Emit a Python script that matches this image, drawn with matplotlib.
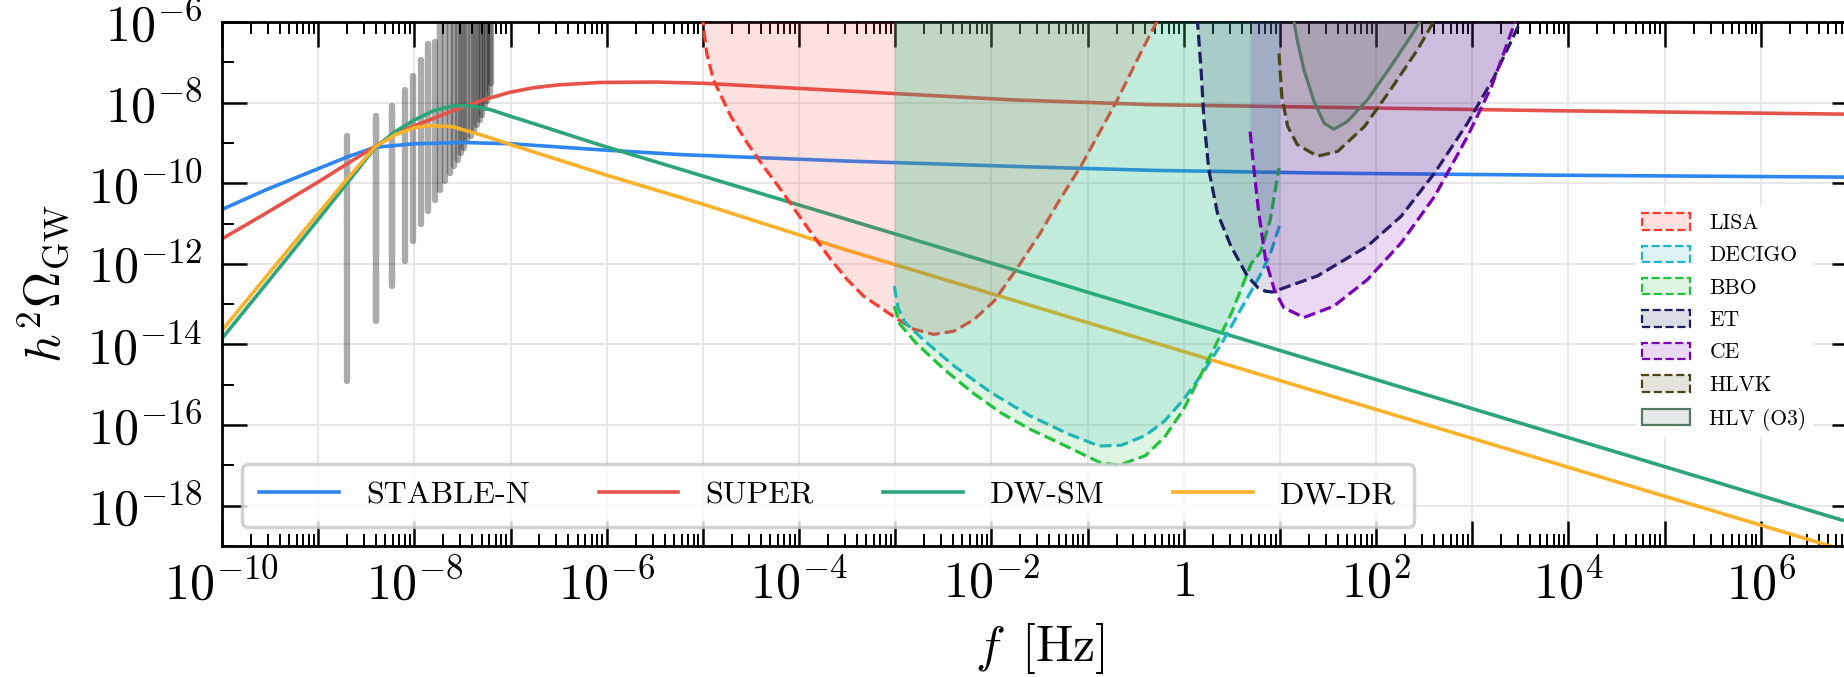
import numpy as np
import matplotlib
matplotlib.use('Agg')
import matplotlib.pyplot as plt
import matplotlib.ticker as mticker
from matplotlib.patches import Patch
from matplotlib.colors import to_rgba

plt.rcParams['font.family'] = 'serif'
plt.rcParams['font.serif'] = ['cmr10', 'DejaVu Serif']
plt.rcParams['mathtext.fontset'] = 'cm'
plt.rcParams['axes.formatter.use_mathtext'] = True

# ---- data (log10 f [Hz], log10 h^2 Omega_GW) ----
# model spectra
stable_lf = [-10, -9.54, -9.0, -8.7, -8.41, -8.0, -7.5, -7.0, -6.07, -5.23, -3.5, -1.8, -0.34, 1.5, 3.82, 7.0]
stable_lo = [-10.65, -10.16, -9.64, -9.35, -9.11, -9.02, -8.99, -9.02, -9.17, -9.29, -9.45, -9.58, -9.68, -9.75, -9.80, -9.85]

super_lf = [-10, -9.54, -9.0, -8.7, -8.41, -8.15, -7.84, -7.6, -7.28, -7.0, -6.76, -6.5, -6.07, -5.5, -5.0, -1.8, -0.34, 3.82, 7.0]
super_lo = [-11.38, -10.74, -9.97, -9.52, -9.09, -8.71, -8.43, -8.2, -7.93, -7.74, -7.63, -7.56, -7.50, -7.49, -7.52, -7.93, -8.05, -8.20, -8.29]

dwsm_lf = [-10, -9.5, -9.0, -8.7, -8.41, -8.2, -8.0, -7.8, -7.6, -7.42, -7.2, -7.0, -6.76, -6.07, -5.03, -2.47, 2.26, 7.0]
dwsm_lo = [-13.85, -12.38, -10.9, -10.0, -9.12, -8.72, -8.43, -8.2, -8.08, -8.08, -8.18, -8.34, -8.52, -9.05, -9.8, -11.64, -15.06, -18.47]

dwdr_lf = [-10, -9.5, -9.0, -8.7, -8.41, -8.2, -8.0, -7.84, -7.6, -7.28, -7.0, -6.5, -6.0, -5.0, -3.53, 2.26, 7.0]
dwdr_lo = [-13.65, -12.2, -10.75, -9.9, -9.1, -8.8, -8.62, -8.57, -8.6, -8.82, -9.04, -9.42, -9.8, -10.52, -11.64, -15.80, -19.2]

# oscillating grey spectrum: spike positions, upper and lower ends
spike_lf = [-8.70, -8.40, -8.23, -8.10, -8.01, -7.93, -7.86, -7.79, -7.73, -7.68, -7.63, -7.59, -7.55,
            -7.52, -7.48, -7.45, -7.41, -7.38, -7.35, -7.32, -7.30, -7.27, -7.24, -7.21, -7.20]
spike_top = [-8.82, -8.33, -8.08, -7.68, -7.35, -6.94, -6.54, -6.49, -6.0, -6.0, -6.0, -6.0, -6.0,
             -6.0, -6.0, -6.0, -6.0, -6.0, -6.0, -6.0, -6.0, -6.0, -6.0, -6.0, -6.0]
spike_bot = [-14.90, -13.42, -12.55, -11.93, -11.44, -11.02, -10.70, -10.41, -10.16, -9.95, -9.74, -9.58, -9.42,
             -9.25, -9.12, -8.96, -8.84, -8.70, -8.55, -8.43, -8.30, -8.14, -7.97, -7.77, -7.52]

# detector sensitivity curves
lisa_lf = [-5.01, -4.96, -4.89, -4.71, -4.54, -4.37, -4.19, -4.02, -3.85, -3.67, -3.50, -3.33, -3.15, -3.01,
           -2.81, -2.60, -2.39, -2.18, -1.97, -1.73, -1.49, -1.31, -1.07, -0.86, -0.69, -0.52, -0.38, -0.26]
lisa_lo = [-5.8, -6.78, -7.44, -8.34, -9.0, -9.58, -10.16, -10.74, -11.31, -11.89, -12.39, -12.80, -13.09, -13.32,
           -13.62, -13.75, -13.67, -13.38, -12.92, -12.10, -11.23, -10.49, -9.58, -8.67, -7.93, -7.11, -6.45, -5.9]

decigo_lf = [-3.01, -2.97, -2.9, -2.7, -2.39, -2.0, -1.60, -1.2, -0.88, -0.65, -0.40, -0.2, 0.0, 0.2, 0.40, 0.6, 0.79, 0.9, 1.0]
decigo_lo = [-12.55, -13.1, -13.45, -13.9, -14.53, -15.2, -15.77, -16.22, -16.52, -16.5, -16.26, -15.9, -15.36, -14.7,
             -13.95, -13.1, -12.30, -11.75, -11.02]

bbo_lf = [-3.01, -2.95, -2.79, -2.5, -2.20, -1.9, -1.60, -1.2, -0.88, -0.68, -0.40, -0.2, 0.0, 0.31, 0.5, 0.70, 0.80, 0.9, 0.99]
bbo_lo = [-13.05, -13.5, -13.95, -14.6, -15.19, -15.7, -16.10, -16.55, -16.92, -17.0, -16.76, -16.3, -15.60, -14.12,
          -13.2, -12.0, -11.7, -10.9, -9.62]

et_lf = [0.14, 0.18, 0.21, 0.26, 0.35, 0.49, 0.66, 0.77, 0.85, 0.92, 0.98, 1.39, 1.91, 2.26, 2.61, 2.95, 3.23, 3.52]
et_lo = [-5.9, -7.19, -8.43, -9.66, -10.74, -11.56, -12.30, -12.59, -12.68, -12.70, -12.65, -12.30, -11.56, -10.82,
         -9.74, -8.51, -7.35, -5.9]

ce_lf = [0.69, 0.73, 0.78, 0.85, 0.94, 1.04, 1.25, 1.56, 1.91, 2.26, 2.61, 2.95, 3.20, 3.46]
ce_lo = [-8.72, -9.66, -10.74, -11.89, -12.63, -13.09, -13.33, -13.05, -12.39, -11.48, -10.32, -8.84, -7.60, -5.9]

hlvk_lf = [0.99, 1.02, 1.08, 1.18, 1.39, 1.60, 1.88, 2.15, 2.43, 2.62]
hlvk_lo = [-6.78, -7.85, -8.59, -9.04, -9.33, -9.21, -8.59, -7.68, -6.69, -5.9]

hlv_lf = [1.14, 1.18, 1.25, 1.36, 1.46, 1.56, 1.70, 1.91, 2.15, 2.36, 2.48]
hlv_lo = [-5.9, -6.45, -7.19, -8.01, -8.51, -8.66, -8.47, -7.93, -7.11, -6.36, -5.9]

models = [
    ('STABLE-N', stable_lf, stable_lo, '#2e86f0'),
    ('SUPER', super_lf, super_lo, '#e5534b'),
    ('DW-SM', dwsm_lf, dwsm_lo, '#2ca57a'),
    ('DW-DR', dwdr_lf, dwdr_lo, '#fbb12a'),
]
detectors = [
    ('LISA', lisa_lf, lisa_lo, '#ff3b30', '--'),
    ('DECIGO', decigo_lf, decigo_lo, '#1fb3cc', '--'),
    ('BBO', bbo_lf, bbo_lo, '#22c23c', '--'),
    ('ET', et_lf, et_lo, '#1b1f5e', '--'),
    ('CE', ce_lf, ce_lo, '#7a00b5', '--'),
    ('HLVK', hlvk_lf, hlvk_lo, '#4a4519', '--'),
    ('HLV (O3)', hlv_lf, hlv_lo, '#557766', '-'),
]

X_MIN, X_MAX = 1e-10, 1e7
Y_MIN, Y_MAX = 1e-19, 1e-6

fig = plt.figure(figsize=(18.44, 6.77), dpi=100)
# the right edge of the axes sits just outside the picture, as in the original crop
ax = fig.add_axes([222 / 1844, 1 - 546 / 677, (1857 - 222) / 1844, 524 / 677])
ax.set_xscale('log')
ax.set_yscale('log')

# grey oscillating spectrum
ax.vlines(10.0 ** np.array(spike_lf), 10.0 ** np.array(spike_bot), 10.0 ** np.array(spike_top),
          color='black', alpha=0.33, lw=4.6, capstyle='round', zorder=1.5)

model_handles = []
for name, lf, lo, c in models:
    h, = ax.plot(10.0 ** np.array(lf), 10.0 ** np.array(lo), color=c, lw=2.6, label=name, zorder=2)
    model_handles.append(h)

det_handles = []
for i, (name, lf, lo, c, ls) in enumerate(detectors):
    f = 10.0 ** np.array(lf)
    om = 10.0 ** np.array(lo)
    z = 3 + 0.1 * i
    ax.fill_between(f, om, Y_MAX, color=c, alpha=0.15, lw=0, zorder=z)
    ax.plot(f, om, color=c, ls=ls, lw=2.3, zorder=z + 0.05)
    det_handles.append(Patch(facecolor=to_rgba(c, 0.15), edgecolor=c, linestyle=ls, linewidth=1.6, label=name))

ax.set_xlim(X_MIN, X_MAX)
ax.set_ylim(Y_MIN, Y_MAX)

# ticks
def pow_label(v, pos, step):
    e = int(round(np.log10(v)))
    if e % step:
        return ''
    if e == 0:
        return r'$1$'
    return r'$10^{%d}$' % e

ax.xaxis.set_major_locator(mticker.LogLocator(base=10, numticks=40))
ax.xaxis.set_minor_locator(mticker.LogLocator(base=10, subs=np.arange(2, 10), numticks=40))
ax.xaxis.set_major_formatter(mticker.FuncFormatter(lambda v, p: pow_label(v, p, 2)))
ax.xaxis.set_minor_formatter(mticker.NullFormatter())
ax.yaxis.set_major_locator(mticker.FixedLocator(10.0 ** np.arange(-18, -5, 2)))
ax.yaxis.set_minor_locator(mticker.FixedLocator(10.0 ** np.arange(-19, -5, 2)))
ax.yaxis.set_major_formatter(mticker.FuncFormatter(lambda v, p: pow_label(v, p, 1)))
ax.yaxis.set_minor_formatter(mticker.NullFormatter())

ax.tick_params(which='both', direction='in', top=True, right=True, labelsize=36)
ax.tick_params(which='major', length=18, width=1.8)
ax.tick_params(which='minor', length=8.5, width=1.4)
ax.tick_params(axis='x', which='major', pad=10)
ax.tick_params(axis='y', which='major', pad=14)
for s in ax.spines.values():
    s.set_linewidth(2.0)

ax.grid(True, which='major', color='#e8e8e8', lw=1.5)
ax.set_axisbelow(True)

ax.set_xlabel(r'$f\ \,[\mathrm{Hz}]$', fontsize=36, labelpad=8)
ax.set_ylabel(r'$h^2\Omega_{\rm GW}$', fontsize=36, labelpad=12)

leg1 = ax.legend(handles=model_handles, ncol=4, loc='lower left', bbox_to_anchor=(0.012, 0.036),
                 borderaxespad=0, fontsize=23, handlelength=2.5, handletextpad=0.85,
                 columnspacing=2.15, borderpad=0.55, frameon=True, framealpha=0.8,
                 edgecolor='#c8c8c8', fancybox=True)
leg1.get_frame().set_linewidth(2.5)
leg1.set_zorder(10)
ax.add_artist(leg1)

leg2 = ax.legend(handles=det_handles, loc='upper right', bbox_to_anchor=(0.973, 0.647),
                 borderaxespad=0, fontsize=15.5, handlelength=2.23, handleheight=0.79,
                 handletextpad=0.88, labelspacing=0.59, borderpad=0.3,
                 frameon=True, framealpha=1.0, edgecolor='none', fancybox=False)
leg2.set_zorder(10)

fig.savefig('out.png', dpi=100)
